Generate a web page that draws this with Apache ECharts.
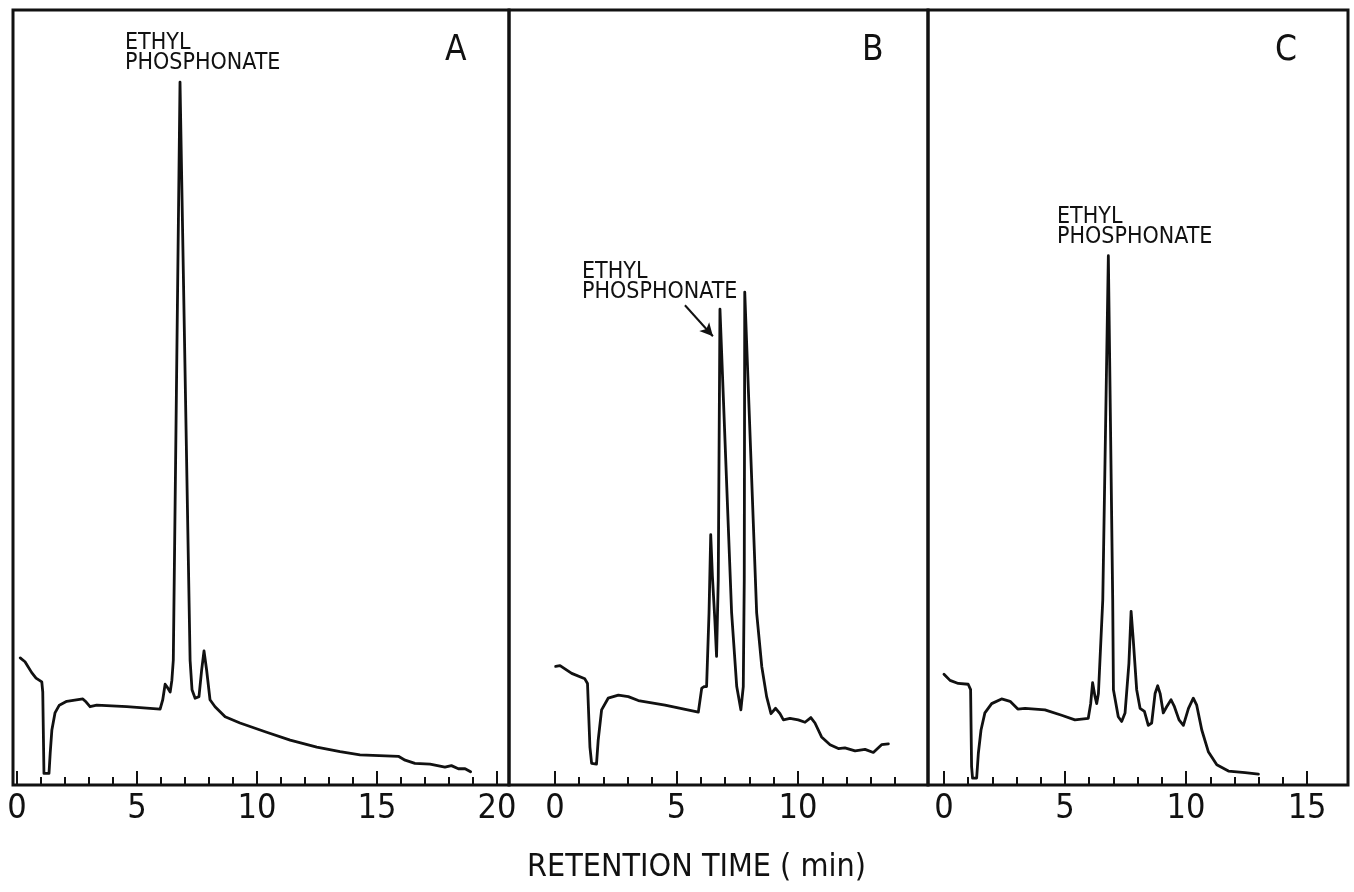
<!DOCTYPE html>
<html>
<head>
<meta charset="utf-8">
<script src="https://cdn.jsdelivr.net/npm/echarts@6/dist/echarts.min.js"></script>
<style>
html,body{margin:0;padding:0;background:#fff;}
#chart{width:1354px;height:892px;}
</style>
</head>
<body>
<div id="chart"></div>
<script>
// Panel A: retention time (min) and detector response (relative units)
const tA = [0.13,0.33,0.61,0.79,1.03,1.07,1.12,1.33,1.38,1.45,1.58,1.76,2.07,2.74,2.88,3.04,3.32,4.57,5.96,6.07,6.17,6.26,6.38,6.45,6.51,6.79,7.21,7.29,7.42,7.58,7.69,7.79,7.9,8.04,8.25,8.67,9.29,10.4,11.38,12.49,13.46,14.29,15.89,16.17,16.58,17.21,17.83,18.1,18.39,18.67,18.9];
const vA = [16.4,15.9,14.5,13.8,13.3,12.0,1.5,1.5,4.1,7.1,9.3,10.3,10.8,11.1,10.7,10.1,10.3,10.1,9.8,11.0,13.0,12.6,12.0,13.5,16.1,90.7,16.1,12.3,11.2,11.4,14.8,17.3,14.8,11.0,10.1,8.8,8.0,6.8,5.8,4.9,4.3,3.9,3.7,3.2,2.8,2.7,2.3,2.5,2.1,2.1,1.7];

// Panel B
const tB = [0.03,0.21,0.69,1.23,1.34,1.44,1.51,1.71,1.78,1.92,2.19,2.61,3.02,3.43,4.53,5.9,6.04,6.15,6.24,6.34,6.41,6.48,6.58,6.65,6.72,6.79,7.27,7.48,7.65,7.75,7.79,7.81,8.3,8.51,8.71,8.89,9.08,9.26,9.4,9.67,10.01,10.29,10.53,10.7,10.97,11.32,11.66,11.93,12.35,12.76,13.1,13.44,13.72];
const vB = [15.3,15.4,14.4,13.7,13.1,4.9,2.8,2.7,5.8,9.7,11.2,11.6,11.4,10.9,10.3,9.4,12.5,12.7,12.7,22.2,32.3,26.9,21.3,16.6,26.5,61.4,22.2,12.7,9.7,12.7,26.5,63.6,22.2,15.3,11.4,9.2,9.9,9.2,8.4,8.6,8.4,8.1,8.7,8.0,6.2,5.2,4.7,4.8,4.4,4.6,4.2,5.2,5.3];

// Panel C
const tC = [0.0,0.25,0.59,1.0,1.1,1.14,1.18,1.35,1.42,1.53,1.69,1.97,2.38,2.73,3.05,3.35,4.17,4.86,5.41,5.96,6.06,6.14,6.24,6.31,6.38,6.56,6.79,6.97,7.0,7.2,7.34,7.48,7.64,7.73,7.82,7.96,8.1,8.28,8.44,8.58,8.72,8.83,8.93,9.06,9.2,9.38,9.52,9.71,9.89,10.1,10.3,10.44,10.65,10.92,11.27,11.75,12.44,12.99];
const vC = [14.3,13.5,13.1,13.0,12.3,2.4,0.9,0.9,4.1,7.1,9.3,10.5,11.1,10.8,9.8,9.9,9.7,9.0,8.4,8.6,10.5,13.2,11.4,10.5,11.8,23.9,68.3,23.9,12.3,8.8,8.2,9.3,15.7,22.4,18.7,12.3,9.9,9.5,7.7,8.0,11.8,12.8,11.8,9.3,10.1,11.0,10.1,8.4,7.7,9.9,11.2,10.3,7.1,4.3,2.6,1.8,1.6,1.4];

// Tick values
const minorTicksA = [0,1,2,3,4,5,6,7,8,9,10,11,12,13,14,15,16,17,18,19,20];
const majorTicksA = [0,5,10,15,20];
const minorTicksB = [0,1,2,3,4,5,6,7,8,9,10,11,12,13,14];
const majorTicksB = [0,5,10];
const minorTicksC = [0,1,2,3,4,5,6,7,8,9,10,11,12,13,14,15];
const majorTicksC = [0,5,10,15];

// Annotation arrow (panel B), in data units
const arrowB = [[5.35, 61.9], [6.5, 57.9]];

const FONT = '"Liberation Sans Narrow", "DejaVu Sans Condensed", "Liberation Sans", sans-serif';
const INK = '#111';

const panels = [
  {left: 13, width: 496, min: -0.17, max: 20.5, minor: minorTicksA, major: majorTicksA, t: tA, v: vA},
  {left: 509, width: 419, min: -1.89, max: 15.35, minor: minorTicksB, major: majorTicksB, t: tB, v: vB},
  {left: 928, width: 420, min: -0.66, max: 16.69, minor: minorTicksC, major: majorTicksC, t: tC, v: vC}
];

const grid = [], xAxis = [], yAxis = [], series = [];
panels.forEach((p, i) => {
  grid.push({left: p.left, top: 10, width: p.width, height: 775, show: true,
    borderColor: INK, borderWidth: 3, backgroundColor: 'transparent'});
  // minor ticks
  xAxis.push({type: 'value', gridIndex: i, min: p.min, max: p.max, position: 'bottom',
    axisLine: {show: false}, splitLine: {show: false},
    axisTick: {show: true, inside: true, length: 8, customValues: p.minor, lineStyle: {color: INK, width: 2}},
    axisLabel: {show: false}});
  // major ticks + labels
  xAxis.push({type: 'value', gridIndex: i, min: p.min, max: p.max, position: 'bottom',
    axisLine: {show: false}, splitLine: {show: false},
    axisTick: {show: true, inside: true, length: 14, customValues: p.major, lineStyle: {color: INK, width: 2}},
    axisLabel: {show: true, customValues: p.major, margin: 7, color: INK, fontSize: 34, fontFamily: FONT,
      showMinLabel: true, showMaxLabel: true}});
  yAxis.push({type: 'value', gridIndex: i, min: 0, max: 100, show: false});
  const s = {type: 'line', xAxisIndex: i * 2, yAxisIndex: i, showSymbol: false, symbol: 'none',
    smooth: false,
    lineStyle: {color: INK, width: 2.8, join: 'round', cap: 'round'}, silent: true, animation: false,
    data: p.t.map((t, k) => [t, p.v[k]])};
  if (i === 1) {
    s.markLine = {silent: true, animation: false, symbol: ['none', 'arrow'], symbolSize: [10, 13],
      label: {show: false},
      lineStyle: {color: INK, width: 2, type: 'solid', curveness: -0.15},
      data: [[{coord: arrowB[0]}, {coord: arrowB[1]}]]};
  }
  series.push(s);
});

const txt = (x, y, text, size, extra) => Object.assign({type: 'text', left: x, top: y,
  style: {text: text, font: size + 'px ' + FONT, fill: INK, lineHeight: Math.round(size * 0.87)}}, extra || {});

const graphic = [
  txt(125, 32, 'ETHYL\nPHOSPHONATE', 23),
  txt(582, 261, 'ETHYL\nPHOSPHONATE', 23),
  txt(1057, 206, 'ETHYL\nPHOSPHONATE', 23),
  txt(445, 33, 'A', 35),
  txt(862, 33, 'B', 35),
  txt(1275, 33, 'C', 35),
  txt(527, 852, 'RETENTION TIME ( min)', 32)
];

const chart = echarts.init(document.getElementById('chart'), null, {renderer: 'canvas'});
chart.setOption({backgroundColor: '#fff', animation: false, grid, xAxis, yAxis, series, graphic});
</script>
</body>
</html>
